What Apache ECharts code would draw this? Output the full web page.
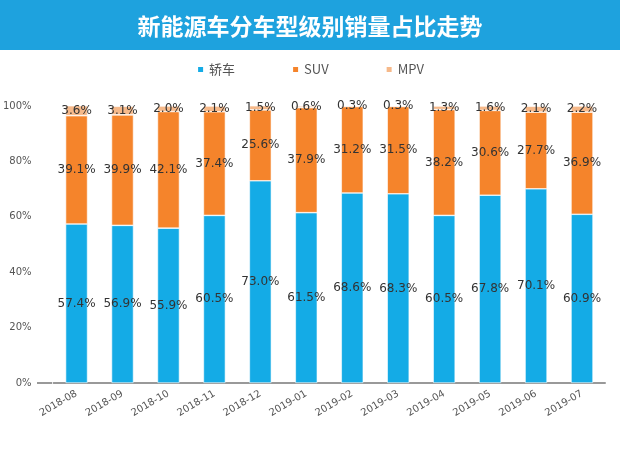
<!DOCTYPE html>
<html>
<head>
<meta charset="utf-8">
<script src="https://cdn.jsdelivr.net/npm/echarts@6/dist/echarts.min.js"></script>
<style>
html, body { margin: 0; padding: 0; background: #fff; }
#chart { width: 620px; height: 465px; }
</style>
</head>
<body>
<div id="chart"></div>
<script>
var months = ['2018-08', '2018-09', '2018-10', '2018-11', '2018-12', '2019-01',
    '2019-02', '2019-03', '2019-04', '2019-05', '2019-06', '2019-07'];
var sedan = [57.4, 56.9, 55.9, 60.5, 73.0, 61.5, 68.6, 68.3, 60.5, 67.8, 70.1, 60.9];
var suv = [39.1, 39.9, 42.1, 37.4, 25.6, 37.9, 31.2, 31.5, 38.2, 30.6, 27.7, 36.9];
var mpv = [3.6, 3.1, 2.0, 2.1, 1.5, 0.6, 0.3, 0.3, 1.3, 1.6, 2.1, 2.2];

var myChart = echarts.init(document.getElementById('chart'));

// 数据标签
var pctLabel = {
    show: true,
    position: 'inside',
    color: '#333',
    fontSize: 12,
    fontFamily: 'DejaVu Sans',
    formatter: function (p) { return p.value.toFixed(1) + '%'; }
};

function barSeries(name, data, color) {
    return {
        name: name,
        type: 'bar',
        stack: 'total',
        barWidth: 22,
        data: data,
        itemStyle: { color: color, borderColor: '#fff', borderWidth: 0.6 },
        label: pctLabel
    };
}

var option = {
    backgroundColor: '#fff',
    animation: false,
    graphic: [{
        type: 'rect',
        left: 0, top: 0,
        shape: { width: 620, height: 50 },
        style: { fill: '#1ea2de' }
    }, {
        // 坐标轴左侧延伸
        type: 'line',
        shape: { x1: 37, y1: 383, x2: 52, y2: 383 },
        style: { stroke: '#999', lineWidth: 2 }
    }],
    title: {
        text: '新能源车分车型级别销量占比走势',
        left: 'center',
        top: 10,
        textStyle: {
            color: '#fff',
            fontSize: 23,
            fontWeight: 'bold',
            fontFamily: 'Noto Sans CJK SC'
        }
    },
    legend: {
        top: 58,
        left: 'center',
        itemWidth: 7,
        itemHeight: 7,
        itemGap: 56,
        icon: 'rect',
        textStyle: { color: '#555', fontSize: 13, fontFamily: 'Noto Sans CJK SC' },
        data: ['轿车', 'SUV', 'MPV']
    },
    grid: { left: 51, right: 15, top: 106, bottom: 82 },
    xAxis: {
        type: 'category',
        data: months,
        axisLine: { lineStyle: { color: '#999', width: 2 } },
        axisTick: { alignWithLabel: true, length: 4, lineStyle: { color: '#999' } },
        axisLabel: { rotate: 30, color: '#555', fontSize: 10, margin: 10, fontFamily: 'DejaVu Sans' }
    },
    yAxis: {
        type: 'value',
        min: 0,
        max: 100,
        interval: 20,
        splitLine: { show: false },
        axisLine: { show: false },
        axisTick: { show: false },
        axisLabel: { color: '#555', fontSize: 10, margin: 22, formatter: '{value}%', fontFamily: 'DejaVu Sans' }
    },
    series: [
        barSeries('轿车', sedan, '#14abe6'),
        barSeries('SUV', suv, '#f5842b'),
        barSeries('MPV', mpv, '#f6b98a')
    ]
};
myChart.setOption(option, true);
</script>
</body>
</html>
